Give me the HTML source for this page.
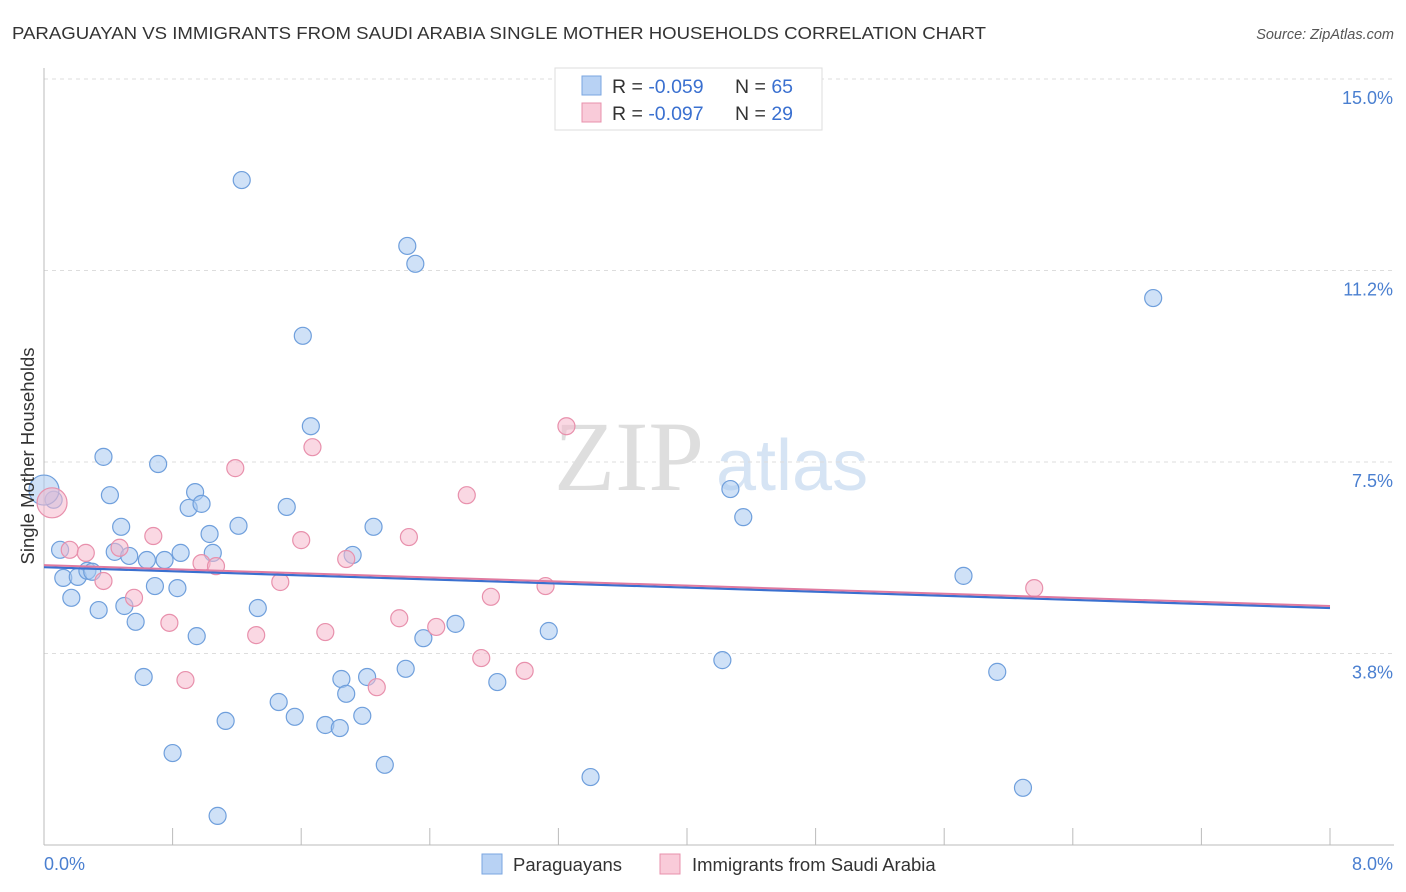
<!DOCTYPE html>
<html><head><meta charset="utf-8">
<style>
body{margin:0;background:#fff;font-family:"Liberation Sans",sans-serif;}
svg{display:block}
</style></head>
<body>
<svg id="chart" width="1406" height="892" xmlns="http://www.w3.org/2000/svg">
<text x="12" y="39" font-size="17.5" fill="#333" textLength="974" lengthAdjust="spacingAndGlyphs">PARAGUAYAN VS IMMIGRANTS FROM SAUDI ARABIA SINGLE MOTHER HOUSEHOLDS CORRELATION CHART</text>
<text x="1394" y="39" font-size="14.5" fill="#555" font-style="italic" text-anchor="end">Source: ZipAtlas.com</text>
<text x="554" y="490" font-size="100" fill="#dedede" font-family="Liberation Serif">ZIP</text>
<text x="716" y="490" font-size="72" fill="#d6e4f4">atlas</text>
<g id="grid"></g>
<g id="axes"></g>
<g id="marks"></g>
<text transform="translate(34,456) rotate(-90)" font-size="18.5" fill="#333" text-anchor="middle">Single Mother Households</text>
<g>
<rect x="555" y="68" width="267" height="62" fill="#fff" stroke="#ddd"/>
<rect x="582" y="76" width="19" height="19" fill="#b8d2f4" stroke="#7aa6e0"/>
<text x="612" y="93" font-size="19.5" fill="#333">R = <tspan fill="#3a70d0">-0.059</tspan></text>
<text x="735" y="93" font-size="19.5" fill="#333">N = <tspan fill="#3a70d0">65</tspan></text>
<rect x="582" y="103" width="19" height="19" fill="#f9cbd9" stroke="#e890ac"/>
<text x="612" y="120" font-size="19.5" fill="#333">R = <tspan fill="#3a70d0">-0.097</tspan></text>
<text x="735" y="120" font-size="19.5" fill="#333">N = <tspan fill="#3a70d0">29</tspan></text>
</g>
<g>
<rect x="482" y="854" width="20" height="20" fill="#b8d2f4" stroke="#7aa6e0"/>
<text x="513" y="871" font-size="18.5" fill="#333">Paraguayans</text>
<rect x="660" y="854" width="20" height="20" fill="#f9cbd9" stroke="#e890ac"/>
<text x="692" y="871" font-size="18.5" fill="#333">Immigrants from Saudi Arabia</text>
</g>
</svg>
<script>
const yTicks=[3.75,7.5,11.25,15];
const yTickLabels=["3.8%","7.5%","11.2%","15.0%"];
const xTicks=[0,0.8,1.6,2.4,3.2,4.0,4.8,5.6,6.4,7.2,8.0];
const blueX=[1.23,2.26,2.31,6.90,1.61,1.66,0.37,0.71,0.41,0.94,0.90,0.98,1.51,4.27,4.35,0.48,1.21,2.05,1.03,0.10,0.44,0.53,0.64,0.75,0.85,1.05,1.92,0.12,0.21,0.27,0.30,5.72,0.69,0.83,0.17,0.34,0.50,1.33,0.57,2.56,3.14,0.95,2.36,4.22,5.93,2.25,0.62,1.85,2.01,1.88,2.82,1.46,1.13,1.56,1.75,1.84,1.98,0.80,2.12,3.40,1.08,6.09,0.06,0.0];
const blueY=[13.02,11.73,11.38,10.71,9.97,8.20,7.60,7.46,6.85,6.91,6.60,6.68,6.62,6.97,6.42,6.23,6.25,6.23,6.09,5.78,5.74,5.66,5.58,5.58,5.72,5.72,5.68,5.23,5.25,5.37,5.35,5.27,5.07,5.03,4.84,4.60,4.68,4.64,4.37,4.33,4.19,4.09,4.05,3.62,3.39,3.45,3.29,3.25,3.29,2.96,3.19,2.80,2.43,2.51,2.35,2.29,2.53,1.80,1.57,1.33,0.57,1.12,6.76,6.95];
const pinkX=[3.25,1.67,1.19,2.63,0.05,0.68,1.60,2.27,0.16,0.26,0.47,0.98,1.07,1.88,0.37,1.47,3.12,6.16,0.56,2.78,2.21,0.78,2.44,1.32,1.75,2.72,2.99,0.88,2.07];
const pinkY=[8.20,7.79,7.38,6.85,6.70,6.05,5.97,6.03,5.78,5.72,5.82,5.52,5.46,5.60,5.17,5.15,5.07,5.03,4.84,4.86,4.44,4.35,4.27,4.11,4.17,3.66,3.41,3.23,3.09];
const blueLine=[5.44,4.64];
const pinkLine=[5.48,4.68];
const NS="http://www.w3.org/2000/svg";
const X=v=>44+v*160.75, Y=v=>845-v*51.07;
function mk(tag,attrs,parent){const e=document.createElementNS(NS,tag);for(const k in attrs)e.setAttribute(k,attrs[k]);parent.appendChild(e);return e;}
const grid=document.getElementById('grid'),axes=document.getElementById('axes'),marks=document.getElementById('marks');
yTicks.forEach((t,i)=>{
 const l=mk('line',{x1:44,x2:1394,y1:Y(t),y2:Y(t),stroke:'#ddd','stroke-dasharray':'4,4'},grid);
 
 
 const tx=mk('text',{x:1393,y:Y(t)+25,'font-size':18,fill:'#4a7fd0','text-anchor':'end'},axes);
 tx.textContent=yTickLabels[i];
 
 
});
const xa=mk('line',{x1:44,x2:1394,y1:845,y2:845,stroke:'#bbb'},axes);


const ya=mk('line',{x1:44,x2:44,y1:68,y2:845,stroke:'#bbb'},axes);


xTicks.forEach(t=>{const l=mk('line',{x1:X(t),x2:X(t),y1:828,y2:845,stroke:'#bbb'},axes);
 
 });
let t0=mk('text',{x:44,y:870,'font-size':18,fill:'#4a7fd0'},axes);t0.textContent="0.0%";


let t1=mk('text',{x:1393,y:870,'font-size':18,fill:'#4a7fd0','text-anchor':'end'},axes);t1.textContent="8.0%";


function pts(xs,ys,fill,stroke,name,bigIdx){
 xs.forEach((x,i)=>{const c=mk('circle',{cx:X(x),cy:Y(ys[i]),r:i===bigIdx?15:8.5,fill:fill,'fill-opacity':0.55,stroke:stroke,'stroke-width':1.2},marks);
  
  });
}
pts(blueX,blueY,'#a8c8f0','#6f9fdc','paraguayan-point',63);
pts(pinkX,pinkY,'#f5b8cc','#e890ac','saudi-point',4);
const bl=mk('line',{x1:X(0),y1:Y(blueLine[0]),x2:X(8),y2:Y(blueLine[1]),stroke:'#3a70d0','stroke-width':2.2},marks);


const pl=mk('line',{x1:X(0),y1:Y(pinkLine[0]),x2:X(8),y2:Y(pinkLine[1]),stroke:'#e07aa0','stroke-width':2},marks);


</script>
</body></html>
